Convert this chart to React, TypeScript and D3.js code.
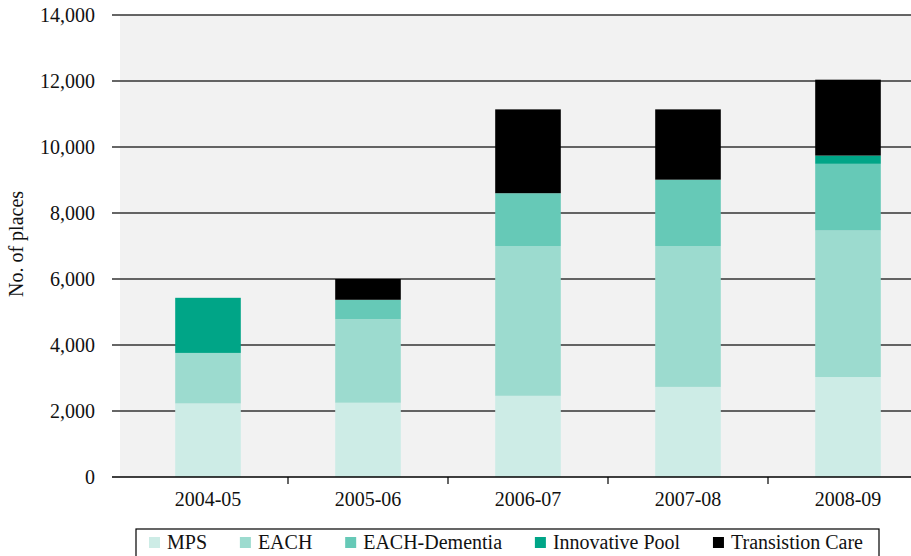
import React, { useEffect, useRef } from "react";
import * as d3 from "d3";

const years = ["2004-05", "2005-06", "2006-07", "2007-08", "2008-09"];
const seriesKeys = ["MPS", "EACH", "EACH-Dementia", "Innovative Pool", "Transistion Care"];
const mps = [2230, 2250, 2460, 2730, 3030];
const each = [1530, 2530, 4540, 4270, 4440];
const eachDementia = [0, 590, 1600, 2010, 2020];
const innovativePool = [1670, 0, 0, 0, 250];
const transitionCare = [0, 630, 2540, 2130, 2300];
const yTicks = [0, 2000, 4000, 6000, 8000, 10000, 12000, 14000];
const colors = ["#cdece6", "#9cdbcf", "#66c9b7", "#00a587", "#000000"];

const W = 911;
const H = 556;
const FONT = "'Liberation Serif', 'Times New Roman', serif";
const FS = 20;

const App = () => {
  const svgRef = useRef<SVGSVGElement>(null);

  useEffect(() => {
    const svg = d3.select(svgRef.current);
    svg.selectAll("*").remove();

    const rows = years.map((y, i) => ({
      year: y,
      MPS: mps[i],
      EACH: each[i],
      "EACH-Dementia": eachDementia[i],
      "Innovative Pool": innovativePool[i],
      "Transistion Care": transitionCare[i],
    }));

    const x = d3.scaleBand().domain(years).range([128, 928]);
    const y = d3.scaleLinear().domain([0, 14000]).range([477, 15]);
    const color = d3.scaleOrdinal<string>().domain(seriesKeys).range(colors);
    const barW = x.bandwidth() * 0.41;

    // plot background
    svg.append("rect")
      .attr("x", 120).attr("y", y(14000))
      .attr("width", W - 120).attr("height", y(0) - y(14000))
      .attr("fill", "#f2f2f2");

    // gridlines
    svg.append("g").selectAll("line")
      .data(yTicks.filter(t => t > 0))
      .join("line")
      .attr("x1", 112).attr("x2", W)
      .attr("y1", d => y(d)).attr("y2", d => y(d))
      .attr("stroke", "#333").attr("stroke-width", 1.6);

    // y labels
    svg.append("g").selectAll("text")
      .data(yTicks)
      .join("text")
      .attr("x", 95).attr("y", d => y(d))
      .attr("dy", "0.33em")
      .attr("text-anchor", "end")
      .attr("font-family", FONT).attr("font-size", FS)
      .attr("fill", "#111")
      .text(d => d3.format(",")(d));

    // stacked bars
    const layers = d3.stack<any>().keys(seriesKeys)(rows);
    svg.append("g").selectAll("g")
      .data(layers)
      .join("g")
      .attr("fill", d => color(d.key))
      .selectAll("rect")
      .data(d => d)
      .join("rect")
      .attr("x", d => (x(d.data.year) as number) + (x.bandwidth() - barW) / 2)
      .attr("width", barW)
      .attr("y", d => y(d[1]))
      .attr("height", d => y(d[0]) - y(d[1]));

    // x axis
    const axisY = y(0);
    svg.append("line")
      .attr("x1", 112).attr("x2", W)
      .attr("y1", axisY).attr("y2", axisY)
      .attr("stroke", "#000").attr("stroke-width", 1.5);
    svg.append("g").selectAll("line")
      .data(years.slice(1))
      .join("line")
      .attr("x1", d => x(d) as number).attr("x2", d => x(d) as number)
      .attr("y1", axisY).attr("y2", axisY + 7)
      .attr("stroke", "#000").attr("stroke-width", 1.2);
    svg.append("g").selectAll("text")
      .data(years)
      .join("text")
      .attr("x", d => (x(d) as number) + x.bandwidth() / 2)
      .attr("y", 506)
      .attr("text-anchor", "middle")
      .attr("font-family", FONT).attr("font-size", FS)
      .attr("fill", "#111")
      .text(d => d);

    // y title
    svg.append("text")
      .attr("transform", "translate(23,244) rotate(-90)")
      .attr("text-anchor", "middle")
      .attr("font-family", FONT).attr("font-size", FS)
      .attr("fill", "#111")
      .text("No. of places");

    // legend: spread items so they fill the box like the original
    const legend = svg.append("g");
    legend.append("rect")
      .attr("x", 136).attr("y", 529).attr("width", 743).attr("height", 40)
      .attr("fill", "#fff").attr("stroke", "#000").attr("stroke-width", 1.2);
    const texts = seriesKeys.map(k =>
      legend.append("text")
        .attr("y", 549)
        .attr("font-family", FONT).attr("font-size", FS)
        .attr("fill", "#111")
        .text(k)
    );
    const widths = texts.map(t => (t.node() as SVGTextElement).getComputedTextLength());
    const start = 149;
    const end = 863;
    const itemsW = d3.sum(widths) + seriesKeys.length * 18;
    const gap = (end - start - itemsW) / (seriesKeys.length - 1);
    let cx = start;
    seriesKeys.forEach((k, i) => {
      legend.append("rect")
        .attr("x", cx).attr("y", 537).attr("width", 11).attr("height", 11)
        .attr("fill", color(k));
      texts[i].attr("x", cx + 18);
      cx += 18 + widths[i] + gap;
    });
  }, []);

  return (
    <div style={{ position: "absolute", left: 0, top: 0 }}>
      <svg ref={svgRef} width={W} height={H} style={{ display: "block" }} />
    </div>
  );
};

export default App;
